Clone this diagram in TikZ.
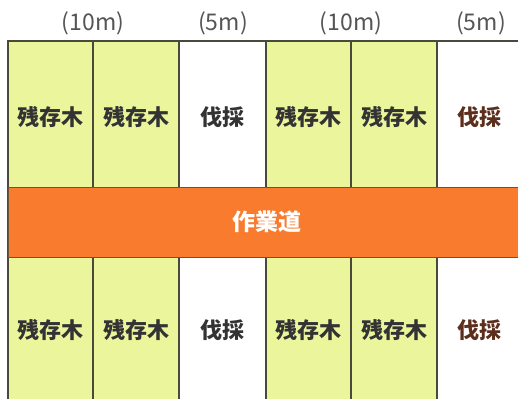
\documentclass[tikz,border=0pt]{standalone}
\usepackage{fontspec}
\newfontfamily\jp{Noto Sans CJK JP}
\definecolor{leaf}{HTML}{EAF59C}
\definecolor{road}{HTML}{F87B2E}
\definecolor{edge}{HTML}{4A4A3C}
\definecolor{labelgray}{HTML}{555555}
\definecolor{brown}{HTML}{5C2E1C}
\definecolor{txt}{HTML}{333333}
\tikzset{
  stripfill/.style={fill=leaf,draw=edge,line width=1.4pt},
  gridline/.style={draw=edge,line width=1.4pt},
  widthlabel/.style={font=\jp\fontsize{23}{23}\selectfont,text=labelgray,inner sep=0pt},
  celltext/.style={font=\jp\bfseries\fontsize{22}{22}\selectfont,text=txt,inner sep=0pt},
  cuttext/.style={celltext,text=brown},
  roadtext/.style={font=\jp\bfseries\fontsize{23}{23}\selectfont,text=white,inner sep=0pt}
}
\begin{document}
\begin{tikzpicture}[x=1pt,y=-1pt]
\useasboundingbox (0,0) rectangle (518,398);
\fill[white] (0,0) rectangle (518,398);
% green strips
\path[stripfill] (8,400) -- (8,41) -- (93,41) -- (93,400);
\path[stripfill] (93,400) -- (93,41) -- (179,41) -- (179,400);
\path[stripfill] (266,400) -- (266,41) -- (351,41) -- (351,400);
\path[stripfill] (351,400) -- (351,41) -- (437,41) -- (437,400);
% top border
\draw[gridline] (8,41) -- (520,41);
% road
\path[fill=road,draw=edge!80!road,line width=1pt] (8,187) rectangle (522,257);
\node[roadtext] (road) at (267,222) {作業道};
% width labels
\node[widthlabel] (w1) at (93,23) {(10m)};
\node[widthlabel] (w2) at (223,23) {(5m)};
\node[widthlabel] (w3) at (351,23) {(10m)};
\node[widthlabel] (w4) at (481,23) {(5m)};
% top row
\node[celltext] (t1) at (50.5,117) {残存木};
\node[celltext] (t2) at (136,117) {残存木};
\node[celltext] (t3) at (222,117) {伐採};
\node[celltext] (t4) at (308.5,117) {残存木};
\node[celltext] (t5) at (394,117) {残存木};
\node[cuttext] (t6) at (479,117) {伐採};
% bottom row
\node[celltext] (b1) at (50.5,330) {残存木};
\node[celltext] (b2) at (136,330) {残存木};
\node[celltext] (b3) at (222,330) {伐採};
\node[celltext] (b4) at (308.5,330) {残存木};
\node[celltext] (b5) at (394,330) {残存木};
\node[cuttext] (b6) at (479,330) {伐採};
\end{tikzpicture}
\end{document}
